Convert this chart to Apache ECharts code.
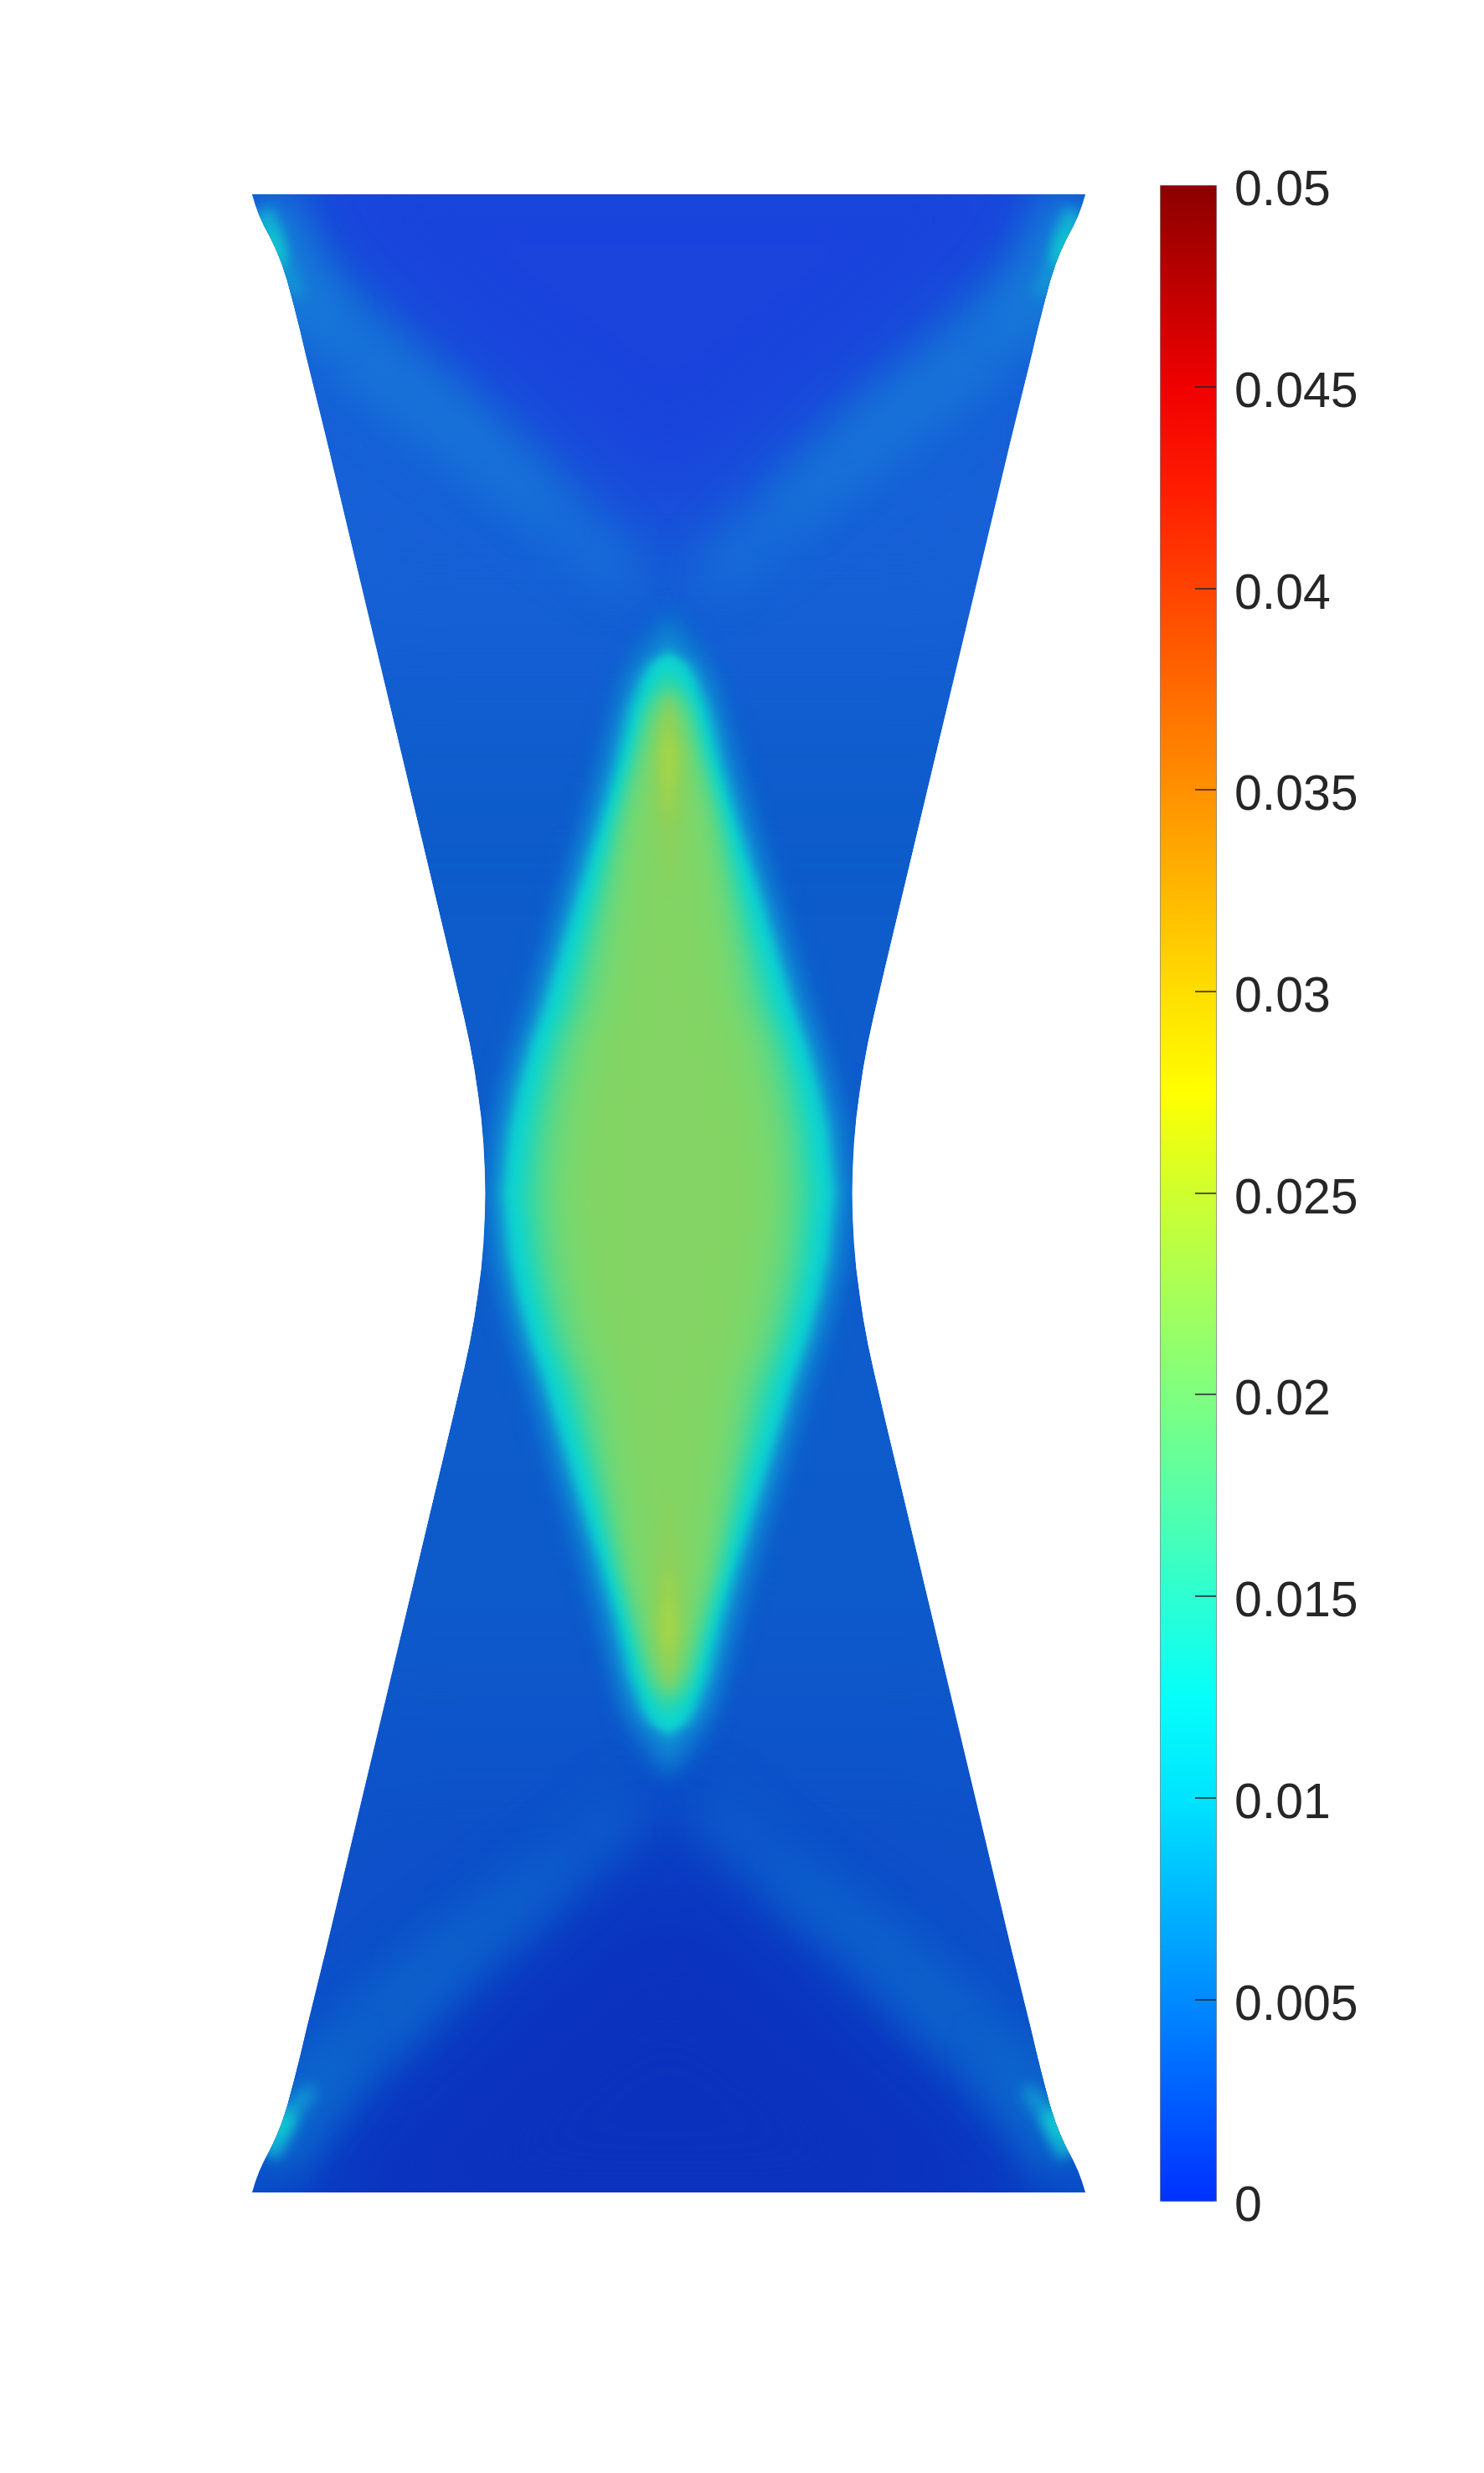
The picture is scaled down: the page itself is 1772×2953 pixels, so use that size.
<!DOCTYPE html>
<html>
<head>
<meta charset="utf-8">
<title>Field</title>
<script src="https://cdn.jsdelivr.net/npm/echarts@6/dist/echarts.min.js"></script>
<style>
  html, body { margin: 0; background: #fff; }
  #chart { width: 1772px; height: 2953px; }
</style>
</head>
<body>
<div id="chart"></div>
<script>
// colour bar, one colour per 0.0025
const barColors = ['#0030ff', '#005dff', '#008aff', '#00b7ff', '#00e4ff', '#05fffa', '#2dffd2', '#57ffa8', '#7fff80', '#a7ff58', '#cfff2f', '#ffff00', '#ffde00', '#ffb700', '#ff9100', '#ff6a00', '#ff4300', '#ff1c00', '#f10000', '#be0000', '#8b0000'];
// field colours, one per 0.001 of value (the surface is shaded, so duller than the bar)
const lowerColors = ['#0a30bc', '#0c36c0', '#0e40c4', '#0e4ac8', '#0e56ca', '#0e62cc', '#0e70d0', '#1280d4', '#1294d4', '#12a8d2', '#10bcd2', '#10ccd0', '#10d4d0', '#14d6c8', '#28d6b4', '#40d8a0', '#58d88c', '#6ad87c', '#76d872', '#7ed86a', '#82d666', '#84d262', '#92d058', '#a0d44c', '#a8d848', '#b0d844'];
const upperColors = ['#1a3edc', '#1a40dc', '#1a44dc', '#1a50da', '#1862d8', '#1870d8', '#1878d8', '#1686d8', '#1496d6', '#14a8d4', '#12bcd2', '#10ccd0', '#10d4cc', '#10dcc8'];

// outline of the specimen: half width against distance from the waist
const outlineD = [0, 30, 60, 90, 120, 150, 180, 210, 240, 270, 898, 1000, 1030, 1060, 1090, 1110, 1125, 1140, 1155, 1168, 1180, 1193];
const outlineW = [219, 219.7, 221.3, 224, 228, 232.5, 238, 244.5, 251.5, 258.5, 408, 433, 440, 447.5, 455.5, 462, 468, 475, 483, 489, 493.5, 497.5];

// central diamond: contour levels, half width of each against distance from the waist, tip and blur of each
const diamondD = [0, 75, 125, 175, 225, 335, 445, 512, 578, 612, 632, 652, 678];
const diamondLevels = [0.006, 0.0075, 0.009, 0.0105, 0.012, 0.0135, 0.015, 0.016, 0.017, 0.018, 0.019, 0.0205];
const diamondTips = [700, 678, 652, 644, 640, 625, 615, 600, 592, 588, 585, 560];
const diamondBlur = [22, 20, 12, 8, 8, 12, 20, 24, 28, 30, 30, 30];
const diamondW = [
  [225, 217, 206, 192, 175, 142, 108, 89, 72, 62, 52, 42, 24],
  [213, 205, 194, 180, 163, 130, 96, 77, 60, 50, 38, 20],
  [204, 196, 185, 171, 154, 121, 87, 68, 52, 38, 28],
  [197, 189, 178, 164, 147, 114, 80, 61, 45, 32, 20],
  [191, 183, 172, 158, 141, 108, 74, 55, 38, 26, 14],
  [179, 170, 160, 147, 130, 98, 66, 46, 28, 14],
  [166, 158, 148, 135, 116, 86, 58, 38, 20, 5],
  [152, 146, 136, 124, 104, 78, 52, 33, 15],
  [140, 134, 124, 112, 92, 68, 46, 28, 10],
  [128, 122, 112, 100, 80, 60, 40, 22, 7],
  [116, 110, 100, 88, 70, 52, 34, 18, 4],
  [100, 92, 82, 70, 52, 36, 24, 10]
];

// yellow spots just inside the two tips
const spotLevels = [0.0215, 0.023, 0.024];
const spotD = [
  [360, 400, 460, 520, 570, 600],
  [440, 470, 520, 550, 575],
  [480, 500, 530, 548]
];
const spotW = [
  [0, 8, 18, 18, 8, 0],
  [0, 6, 9, 4, 0],
  [0, 4, 4, 0]
];

// darker wedges at both ends, [half x, distance], from the apex outwards
const upperWedgeLevels = [0.004, 0.003, 0.002];
const upperWedgeBlur = [240, 90, 90];
const upperWedges = [
  [[0, 620], [560, 620], [560, 1300]],
  [[0, 745], [259, 970], [452, 1137], [480, 1240]],
  [[0, 830], [259, 1025], [440, 1180], [470, 1240]]
];
const lowerWedgeLevels = [0.0035, 0.002, 0.001, 0.0003];
const lowerWedgeBlur = [240, 90, 100, 120];
const lowerWedges = [
  [[0, 620], [560, 620], [560, 1300]],
  [[0, 730], [268, 965], [418, 1120], [470, 1240]],
  [[0, 800], [260, 1030], [410, 1180], [440, 1240]],
  [[0, 880], [200, 1040], [400, 1240]]
];

// light bands running from the corners to the diamond tips
const upperArmX = [485, 475, 463, 440, 400, 352, 259, 140, 46];
const upperArmD = [1170, 1142, 1110, 1072, 1035, 988, 915, 810, 728];
const lowerArmX = [478, 468, 452, 425, 385, 318, 268, 140, 46];
const lowerArmD = [1145, 1122, 1098, 1068, 1022, 962, 912, 810, 728];
const upperArmLevels = [0.0048, 0.0056, 0.0065, 0.008, 0.01, 0.012];
const lowerArmLevels = [0.0044, 0.005, 0.0055, 0.008, 0.01, 0.012];
const armThickness = [
  [50, 50, 50, 50, 45, 45, 45, 35, 25],
  [30, 30, 30, 28, 25, 22, 18, 10, 0],
  [22, 22, 20, 14, 8, 0, 0, 0, 0],
  [16, 18, 14, 7, 0, 0, 0, 0, 0],
  [6, 12, 8, 0, 0, 0, 0, 0, 0],
  [0, 6, 3, 0, 0, 0, 0, 0, 0]
];

const baseLevel = 0.0045;
const tickValues = [0.005, 0.01, 0.015, 0.02, 0.025, 0.03, 0.035, 0.04, 0.045];
const tickStep = 0.005;
const barMax = 0.05;

// half outline against distance -> closed polygon
function outlinePoints() {
  const pts = [];
  for (let i = outlineD.length - 1; i >= 0; i--) pts.push([outlineW[i], outlineD[i]]);
  for (let i = 1; i < outlineD.length; i++) pts.push([outlineW[i], -outlineD[i]]);
  for (let i = outlineD.length - 1; i >= 0; i--) pts.push([-outlineW[i], -outlineD[i]]);
  for (let i = 1; i < outlineD.length; i++) pts.push([-outlineW[i], outlineD[i]]);
  return pts;
}

function diamondPoints(widths, tip) {
  const right = [[0, tip]];
  for (let i = widths.length - 1; i >= 0; i--) right.push([widths[i], diamondD[i]]);
  for (let i = 1; i < widths.length; i++) right.push([widths[i], -diamondD[i]]);
  right.push([0, -tip]);
  const left = right.slice(1, -1).reverse().map(p => [-p[0], p[1]]);
  return right.concat(left);
}

function wedgePoints(wedge, sign) {
  const right = wedge.map(p => [p[0], sign * p[1]]);
  const left = wedge.slice(1).reverse().map(p => [-p[0], sign * p[1]]);
  return right.concat(left);
}

function spotPoints(ds, ws, sign) {
  const right = ds.map((d, i) => [ws[i], sign * d]);
  const left = ds.slice().reverse().map((d, i) => [-ws[ds.length - 1 - i], sign * d]);
  return right.concat(left);
}

function armPoints(xs, ds, thick, signX, signD) {
  const outer = [];
  const inner = [];
  xs.forEach((x, i) => {
    if (thick[i] <= 0) return;
    const t = thick[i] * 0.7;
    outer.push([signX * (x + t), signD * (ds[i] - t)]);
    inner.unshift([signX * (x - t), signD * (ds[i] + t)]);
  });
  return outer.concat(inner);
}

// every contour: [level, polygon, blur]
const lowerContours = [[baseLevel, outlinePoints(), 0]];
lowerWedges.forEach((w, i) => lowerContours.push([lowerWedgeLevels[i], wedgePoints(w, -1), lowerWedgeBlur[i]]));
lowerArmLevels.forEach((level, i) => {
  const blur = i < 3 ? 50 : 16;
  lowerContours.push([level, armPoints(lowerArmX, lowerArmD, armThickness[i], 1, -1), blur]);
  lowerContours.push([level, armPoints(lowerArmX, lowerArmD, armThickness[i], -1, -1), blur]);
});

const upperContours = [];
upperWedges.forEach((w, i) => upperContours.push([upperWedgeLevels[i], wedgePoints(w, 1), upperWedgeBlur[i]]));
upperArmLevels.forEach((level, i) => {
  const blur = i < 3 ? 50 : 16;
  upperContours.push([level, armPoints(upperArmX, upperArmD, armThickness[i], 1, 1), blur]);
  upperContours.push([level, armPoints(upperArmX, upperArmD, armThickness[i], -1, 1), blur]);
});

const diamondContours = diamondLevels.map((level, i) => [level, diamondPoints(diamondW[i], diamondTips[i]), diamondBlur[i]]);
spotLevels.forEach((level, i) => {
  diamondContours.push([level, spotPoints(spotD[i], spotW[i], 1), 14]);
  diamondContours.push([level, spotPoints(spotD[i], spotW[i], -1), 14]);
});

const outline = outlinePoints();
const OFFSCREEN = 4000;

// contours are painted as their blurred shadow only, clipped to the outline
function renderContour(contours) {
  return function (params, api) {
    const c = contours[params.dataIndex];
    const color = api.visual('color');
    const pts = c[1].map(p => api.coord(p));
    const clip = { type: 'polygon', shape: { points: outline.map(p => api.coord(p)) } };
    if (!c[2]) {
      return {
        type: 'group',
        clipPath: clip,
        children: [{ type: 'polygon', shape: { points: pts }, style: { fill: color } }]
      };
    }
    return {
      type: 'group',
      clipPath: clip,
      children: [{
        type: 'polygon',
        shape: { points: pts.map(p => [p[0] - OFFSCREEN, p[1]]) },
        style: { fill: '#000', shadowColor: color, shadowBlur: c[2], shadowOffsetX: OFFSCREEN }
      }]
    };
  };
}

function contourSeries(contours) {
  return {
    type: 'custom',
    xAxisIndex: 0,
    yAxisIndex: 0,
    silent: true,
    clip: false,
    renderItem: renderContour(contours),
    data: contours.map((c, i) => [c[0], i])
  };
}

const chart = echarts.init(document.getElementById('chart'), null, { renderer: 'canvas' });
chart.setOption({
  animation: false,
  backgroundColor: '#fff',
  grid: [
    { left: 300, top: 232, width: 997, height: 2386 },
    { left: 1385, top: 221, width: 67, height: 2407 }
  ],
  xAxis: [
    { gridIndex: 0, type: 'value', min: -498.5, max: 498.5, show: false },
    { gridIndex: 1, type: 'value', min: 0, max: 1, show: false }
  ],
  yAxis: [
    { gridIndex: 0, type: 'value', min: -1193, max: 1193, show: false },
    {
      gridIndex: 1,
      type: 'value',
      position: 'right',
      min: 0,
      max: barMax,
      interval: tickStep,
      z: 10,
      splitLine: { show: false },
      axisLine: { show: false, onZero: false },
      axisTick: { show: true, inside: true, length: 25, customValues: tickValues, lineStyle: { color: '#262626', width: 1.5 } },
      axisLabel: {
        show: true,
        margin: 22,
        formatter: '{t|{value}}',
        rich: {
          t: { color: '#262626', fontFamily: 'Liberation Sans', fontSize: 59, padding: [16, 0, 0, 0] }
        },
        showMinLabel: true,
        showMaxLabel: true
      }
    }
  ],
  visualMap: [
    {
      type: 'continuous',
      seriesIndex: 3,
      min: 0,
      max: barMax,
      left: 1385,
      top: 221,
      itemWidth: 67,
      itemHeight: 2407,
      padding: 0,
      text: null,
      showLabel: false,
      calculable: false,
      hoverLink: false,
      borderColor: '#6e6e6e',
      borderWidth: 1,
      inRange: { color: barColors }
    },
    {
      type: 'continuous',
      show: false,
      seriesIndex: [0, 2],
      dimension: 0,
      min: 0,
      max: (lowerColors.length - 1) / 1000,
      inRange: { color: lowerColors }
    },
    {
      type: 'continuous',
      show: false,
      seriesIndex: 1,
      dimension: 0,
      min: 0,
      max: (upperColors.length - 1) / 1000,
      inRange: { color: upperColors }
    }
  ],
  series: [
    contourSeries(lowerContours),
    contourSeries(upperContours),
    contourSeries(diamondContours),
    { type: 'line', xAxisIndex: 1, yAxisIndex: 1, silent: true, data: [] }
  ]
});
</script>
</body>
</html>
